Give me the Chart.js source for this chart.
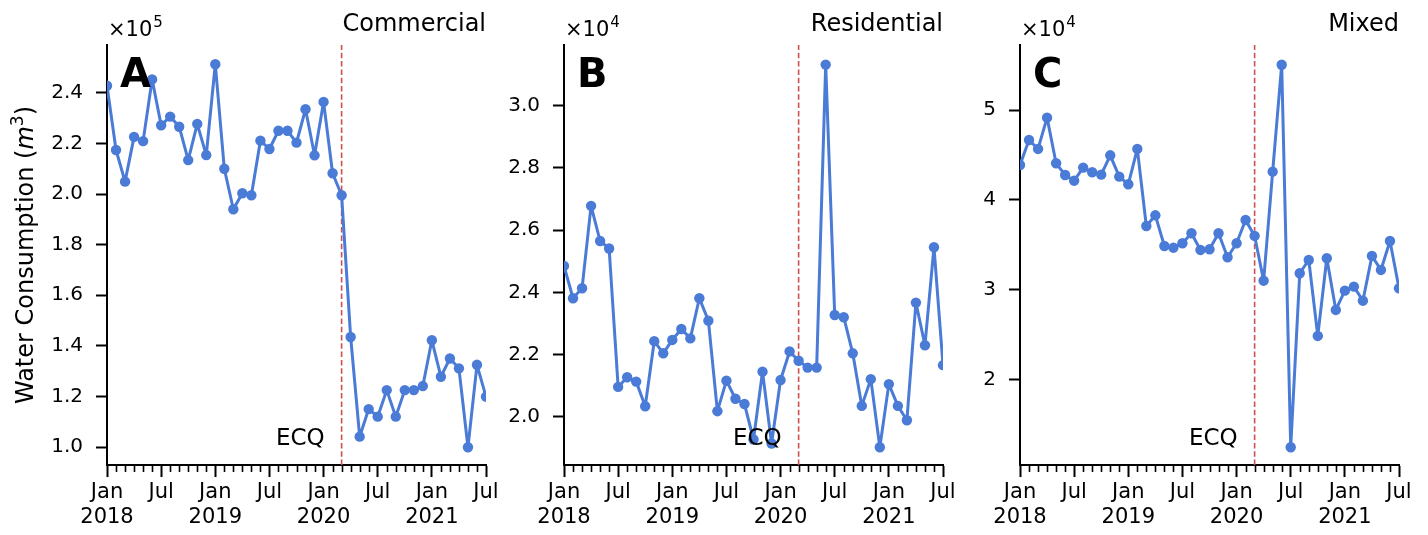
<!DOCTYPE html>
<html>
<head>
<meta charset="utf-8">
<title>Monthly water consumption by sector</title>
<script src="https://cdn.jsdelivr.net/npm/chart.js@4/dist/chart.umd.min.js"></script>
<style>
  html, body { margin: 0; padding: 0; background: #ffffff; }
  #wrap { position: relative; width: 1428px; height: 535px; overflow: hidden; background: #ffffff; }
  #wrap canvas { position: absolute; top: 0; }
</style>
</head>
<body>
<div id="wrap">
  <canvas id="cA" width="520" height="535" style="left:0px"></canvas>
  <canvas id="cB" width="520" height="535" style="left:457px"></canvas>
  <canvas id="cC" width="515" height="535" style="left:913px"></canvas>
</div>
<script>
// Monthly readings, January 2018 through July 2021 (m^3)
const startYear = 2018;
const monthCount = 43;

const commercial = [
  242800, 217400, 204900, 222600, 220900, 245300, 227200, 230600, 226600, 213400, 227700, 215400,
  251300, 210000, 194000, 200300, 199500, 221100, 217800, 225000, 225000, 220300, 233500, 215300,
  236400, 208200, 199500, 143500, 104100, 115000, 112000, 122500, 112000, 122500, 122500, 124100,
  142200, 127800, 135000, 131100, 99900, 132500, 119900
];
const residential = [
  24850, 23810, 24130, 26780, 25650, 25410, 20960, 21270, 21130, 20340, 22430, 22040,
  22470, 22820, 22520, 23810, 23090, 20180, 21160, 20580, 20410, 19270, 21450, 19140,
  21180, 22100, 21800, 21580, 21580, 31320, 23270, 23200, 22040, 20350, 21210, 19020,
  21050, 20350, 19890, 23670, 22300, 25450, 21660
];
const mixed = [
  43900, 46690, 45690, 49180, 44090, 42790, 42150, 43610, 43090, 42830, 44980, 42600,
  41750, 45690, 37100, 38290, 34870, 34680, 35170, 36290, 34430, 34500, 36290, 33610,
  35170, 37770, 35990, 31000, 43160, 55080, 12430, 31830, 33310, 24840, 33500, 27740,
  29890, 30340, 28770, 33760, 32200, 35430, 30160
];

// Month index of the Enhanced Community Quarantine start (March 2020)
const ecqMonth = 26;

// x-axis labelled ticks (month index -> label)
const xTickMonths = [0, 6, 12, 18, 24, 30, 36, 42];
const xTickLabels = [['Jan', '2018'], 'Jul', ['Jan', '2019'], 'Jul', ['Jan', '2020'], 'Jul', ['Jan', '2021'], 'Jul'];

// y-axis ticks per panel (in units of the axis multiplier)
const yTicksA = [1.0, 1.2, 1.4, 1.6, 1.8, 2.0, 2.2, 2.4];
const yTicksB = [2.0, 2.2, 2.4, 2.6, 2.8, 3.0];
const yTicksC = [2, 3, 4, 5];

// axis limits (in units of the axis multiplier)
const yRangeA = [0.929, 2.589];
const yRangeB = [1.845, 3.195];
const yRangeC = [1.045, 5.728];

const LINE_BLUE = '#4a7bd6';
const ECQ_RED = '#d0504f';
const FONT = "'DejaVu Sans', sans-serif";

const months = [];
for (let m = 0; m < monthCount; m++) months.push(m);

// Extra drawing: ECQ marker, minor month ticks, panel letter, titles, multiplier, y label
const decoPlugin = {
  id: 'deco',
  beforeDatasetsDraw(chart, args, o) {
    const ctx = chart.ctx, area = chart.chartArea, xs = chart.scales.x;
    const px = xs.getPixelForValue(o.ecq);
    ctx.save();
    ctx.strokeStyle = ECQ_RED;
    ctx.lineWidth = 1.6;
    ctx.setLineDash([5.5, 2.8]);
    ctx.beginPath();
    ctx.moveTo(px, area.bottom);
    ctx.lineTo(px, area.top);
    ctx.stroke();
    ctx.restore();
  },
  afterDraw(chart, args, o) {
    const ctx = chart.ctx, area = chart.chartArea, xs = chart.scales.x;
    ctx.save();
    // minor (monthly) ticks
    ctx.strokeStyle = '#000';
    ctx.lineWidth = 1.6;
    months.forEach(m => {
      if (xTickMonths.includes(m)) return;
      const px = Math.round(xs.getPixelForValue(m)) + 0.5;
      ctx.beginPath();
      ctx.moveTo(px, area.bottom);
      ctx.lineTo(px, area.bottom + 7);
      ctx.stroke();
    });

    // ECQ label
    const ex = xs.getPixelForValue(o.ecq);
    ctx.fillStyle = '#000';
    ctx.font = '23px ' + FONT;
    ctx.textAlign = 'right';
    ctx.textBaseline = 'alphabetic';
    ctx.fillText('ECQ', ex - 17, area.bottom - 20);

    // sector title
    ctx.font = '24px ' + FONT;
    ctx.textAlign = 'right';
    ctx.fillText(o.title, area.right, 31);

    // panel letter
    ctx.font = 'bold 40px ' + FONT;
    ctx.textAlign = 'left';
    ctx.fillText(o.letter, area.left + 13, area.top + 42);

    // axis multiplier
    ctx.font = '21px ' + FONT;
    ctx.textAlign = 'left';
    const base = '\u00d710';
    ctx.fillText(base, area.left + 1, 36);
    const bw = ctx.measureText(base).width;
    ctx.font = '15px ' + FONT;
    ctx.fillText(o.exp, area.left + 2 + bw, 27);

    // y-axis title with italic m and superscript 3
    if (o.ylabel) {
      const pieces = [
        { t: 'Water Consumption (', f: '24px ' + FONT, dy: 0 },
        { t: 'm', f: 'italic 24px ' + FONT, dy: 0 },
        { t: '3', f: '17px ' + FONT, dy: -10 },
        { t: ')', f: '24px ' + FONT, dy: 0 }
      ];
      let total = 0;
      pieces.forEach(p => { ctx.font = p.f; p.w = ctx.measureText(p.t).width; total += p.w; });
      ctx.translate(33, (area.top + area.bottom) / 2);
      ctx.rotate(-Math.PI / 2);
      let x = -total / 2;
      ctx.textAlign = 'left';
      pieces.forEach(p => { ctx.font = p.f; ctx.fillText(p.t, x, p.dy); x += p.w; });
    }
    ctx.restore();
  }
};

function makePanel(canvasId, series, divisor, yRange, yTicks, decimals, deco, rightPad) {
  const points = series.map((v, i) => ({ x: months[i], y: v / divisor }));
  return new Chart(document.getElementById(canvasId), {
    type: 'line',
    data: {
      datasets: [{
        data: points,
        borderColor: LINE_BLUE,
        backgroundColor: LINE_BLUE,
        borderWidth: 3,
        borderJoinStyle: 'round',
        borderCapStyle: 'round',
        pointRadius: 5.2,
        pointBorderWidth: 0,
        pointBackgroundColor: LINE_BLUE,
        tension: 0,
        clip: 0
      }]
    },
    options: {
      responsive: false,
      animation: false,
      events: [],
      layout: { padding: { top: 45, right: rightPad, bottom: 0, left: 0 } },
      plugins: {
        legend: { display: false },
        tooltip: { enabled: false },
        deco: deco
      },
      scales: {
        x: {
          type: 'linear',
          min: 0,
          max: monthCount - 1,
          afterBuildTicks(scale) { scale.ticks = months.map(m => ({ value: m })); },
          afterFit(scale) { scale.height = 70; },
          border: { display: true, color: '#000', width: 2 },
          grid: {
            display: true,
            drawOnChartArea: false,
            drawTicks: true,
            tickLength: 12,
            tickWidth: 2,
            tickColor: ctx => (ctx.tick && xTickMonths.includes(ctx.tick.value)) ? '#000' : 'rgba(0,0,0,0)'
          },
          ticks: {
            autoSkip: false,
            maxRotation: 0,
            minRotation: 0,
            padding: 3,
            color: '#000',
            font: { family: FONT, size: 21, lineHeight: 1.2 },
            callback(value) {
              const k = xTickMonths.indexOf(value);
              return k >= 0 ? xTickLabels[k] : '';
            }
          }
        },
        y: {
          type: 'linear',
          min: yRange[0],
          max: yRange[1],
          afterBuildTicks(scale) { scale.ticks = yTicks.map(v => ({ value: v })); },
          afterFit(scale) { scale.width = 107; },
          border: { display: true, color: '#000', width: 2 },
          grid: {
            display: true,
            drawOnChartArea: false,
            drawTicks: true,
            tickLength: 11,
            tickWidth: 2,
            tickColor: '#000'
          },
          ticks: {
            padding: 13,
            color: '#000',
            font: { family: FONT, size: 20 },
            callback(value) { return Number(value).toFixed(decimals); }
          }
        }
      }
    },
    plugins: [decoPlugin]
  });
}

makePanel('cA', commercial, 1e5, yRangeA, yTicksA, 1,
  { letter: 'A', title: 'Commercial', exp: '5', ecq: ecqMonth, ylabel: true }, 34);
makePanel('cB', residential, 1e4, yRangeB, yTicksB, 1,
  { letter: 'B', title: 'Residential', exp: '4', ecq: ecqMonth, ylabel: false }, 34);
makePanel('cC', mixed, 1e4, yRangeC, yTicksC, 0,
  { letter: 'C', title: 'Mixed', exp: '4', ecq: ecqMonth, ylabel: false }, 29);
</script>
</body>
</html>
